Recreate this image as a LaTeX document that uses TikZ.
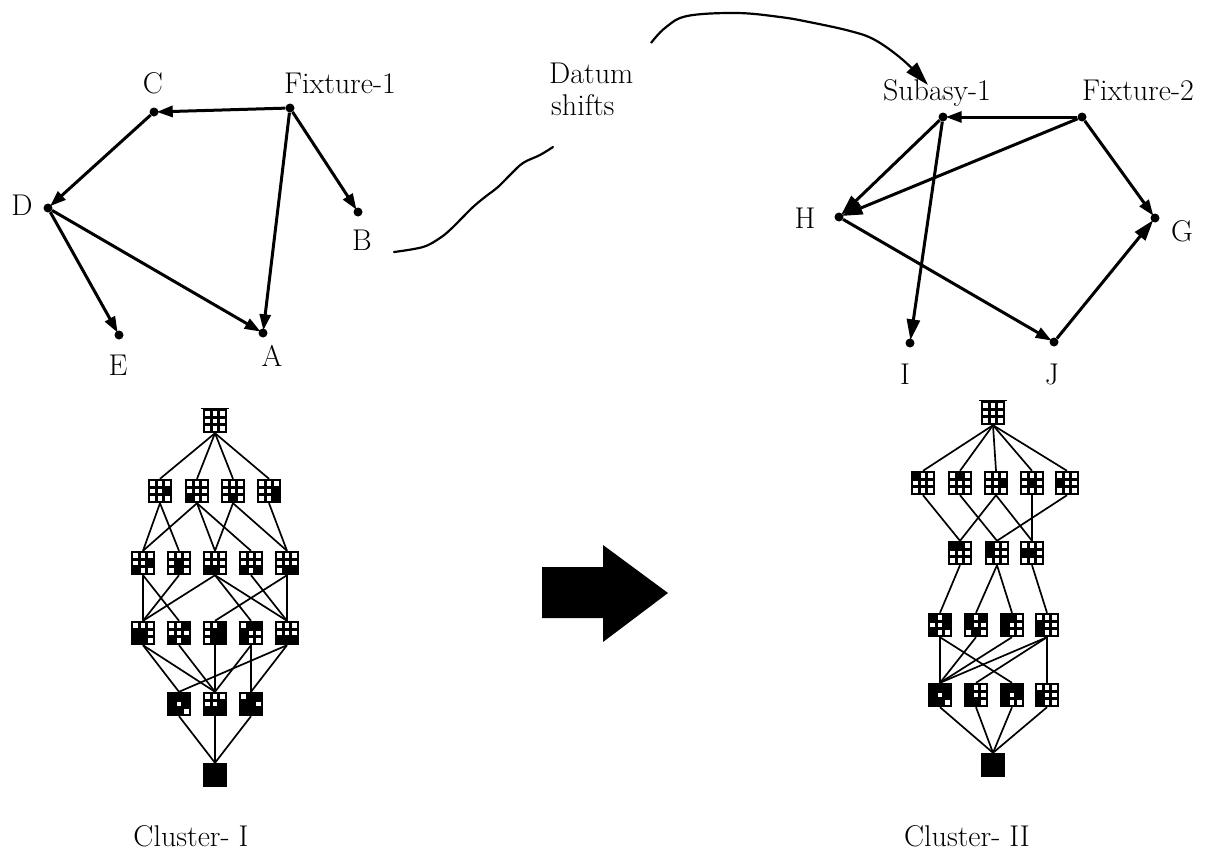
\documentclass[tikz,border=0pt]{standalone}
\usetikzlibrary{arrows.meta}
\begin{document}
\begin{tikzpicture}[x=1pt,y=-1pt,
  lbl/.style={font=\fontsize{30}{33}\selectfont, inner sep=0pt, anchor=base},
  gdot/.style={circle, fill=black, inner sep=0pt, minimum size=9pt},
  garrow/.style={line width=3pt, -{Triangle[length=16pt,width=11pt]}, shorten >=-2pt},
  garrowb/.style={line width=3pt, -{Triangle[length=21pt,width=13pt]}, shorten >=-2pt},
  latn/.style={rectangle, fill=black, inner sep=0pt, minimum size=24pt},
  ledge/.style={line width=1.7pt},
  curvestyle/.style={line width=2.2pt, line cap=round}]
\useasboundingbox (0,0) rectangle (1210,862);

\newcommand\latbox[4]{%
  \node[latn] (#1) at (#2,#3) {};
  \foreach \c in {1,...,9}{%
    \pgfmathtruncatemacro\cc{mod(\c-1,3)}%
    \pgfmathtruncatemacro\rr{(\c-1)/3}%
    \fill[white] ({#2+7.2*\cc-7.2-2.4},{#3+7.2*\rr-7.2-2.4}) rectangle ++(4.8,4.8);}
  \foreach \c in {#4}{%
    \ifnum\c>0
    \pgfmathtruncatemacro\cc{mod(\c-1,3)}%
    \pgfmathtruncatemacro\rr{(\c-1)/3}%
    \fill[black] ({#2+7.2*\cc-7.2-2.7},{#3+7.2*\rr-7.2-2.7}) rectangle ++(5.4,5.4);
    \fi}
}

% ---------------- left graph ----------------
\node[gdot] (F1) at (290,108) {};
\node[gdot] (C) at (154,112) {};
\node[gdot] (D) at (48,208) {};
\node[gdot] (B) at (358,212) {};
\node[gdot] (E) at (119,335) {};
\node[gdot] (A) at (263,333) {};
\node[lbl] (tF1) at (340,93) {Fixture-1};
\node[lbl] (tC) at (153,93) {C};
\node[lbl] (tD) at (22,215) {D};
\node[lbl] (tB) at (362,250) {B};
\node[lbl] (tE) at (118,375) {E};
\node[lbl] (tA) at (272,366) {A};
\draw[garrow] (F1) -- (C);
\draw[garrow] (F1) -- (B);
\draw[garrow] (F1) -- (A);
\draw[garrow] (C) -- (D);
\draw[garrow] (D) -- (E);
\draw[garrow] (D) -- (A);

% ---------------- right graph ----------------
\node[gdot] (S1) at (943,117) {};
\node[gdot] (F2) at (1082,117) {};
\node[gdot] (H) at (839,217) {};
\node[gdot] (G) at (1155,218) {};
\node[gdot] (I) at (910,343) {};
\node[gdot] (J) at (1054,342) {};
\node[lbl] (tS1) at (937,100) {Subasy-1};
\node[lbl] (tF2) at (1138,100) {Fixture-2};
\node[lbl] (tH) at (805,228) {H};
\node[lbl] (tG) at (1182,241) {G};
\node[lbl] (tI) at (905,384) {I};
\node[lbl] (tJ) at (1052,384) {J};
\draw[garrow] (F2) -- (S1);
\draw[garrowb] (F2) -- (H);
\draw[garrowb] (S1) -- (H);
\draw[garrowb] (S1) -- (I);
\draw[garrow] (H) -- (J);
\draw[garrowb] (J) -- (G);
\draw[garrow] (F2) -- (G);

% ---------------- datum shifts ----------------
\node[lbl, anchor=base west] (tD1) at (549,83) {Datum};
\node[lbl, anchor=base west] (tD2) at (551,115) {shifts};
\coordinate (q0) at (394,252);
\coordinate (q1) at (553,147);
\draw[curvestyle] plot[smooth, tension=0.6] coordinates {(q0) (423,247) (440,238) (451,229) (462,218) (473,207) (485,197) (498,187) (510,175) (523,163) (540,155) (q1)};
\coordinate (p0) at (651,43);
\coordinate (p1) at (928,85);
\draw[curvestyle, line cap=butt, -{Triangle[length=24pt,width=14pt]}] plot[smooth, tension=0.6] coordinates {(p0) (665,28) (687,16) (737,13) (780,17) (809,22) (850,31) (875,40) (903,60) (p1)};

% ---------------- big arrow ----------------
\fill[black] (542,567) -- (603,567) -- (603,545) -- (668,593) -- (603,642) -- (603,618) -- (542,618) -- cycle;

% ---------------- left lattice ----------------
\latbox{L0}{215}{421}{0}
\draw[line width=1.8pt] (201,408.5) -- (229,408.5);
\latbox{L1a}{160}{491}{6}
\latbox{L1b}{197}{491}{7}
\latbox{L1c}{233}{491}{8}
\latbox{L1d}{269}{491}{6,9}
\latbox{L2a}{143}{563}{6,7}
\latbox{L2b}{179}{563}{5,8}
\latbox{L2c}{215}{563}{7,8}
\latbox{L2d}{251}{563}{7,9}
\latbox{L2e}{287}{563}{8,9}
\latbox{L3a}{143}{633}{4,5,7,8}
\latbox{L3b}{179}{633}{3,7,9}
\latbox{L3c}{215}{633}{3,5,6,8,9}
\latbox{L3d}{251}{633}{2,3,4,7}
\latbox{L3e}{287}{633}{7,8,9}
\latbox{L4a}{179}{704}{1,2,3,4,6,7,8}
\latbox{L4b}{215}{704}{6,7,8,9}
\latbox{L4c}{251}{704}{2,3,4,5,7,8,9}
\latbox{L5}{215}{775}{1,2,3,4,5,6,7,8,9}
\foreach \a/\b in {L0/L1a,L0/L1b,L0/L1c,L0/L1d,
  L1a/L2a,L1a/L2b,L1b/L2a,L1b/L2c,L1b/L2d,L1c/L2c,L1c/L2e,L1d/L2e,
  L2a/L3a,L2a/L3b,L2b/L3a,L2c/L3a,L2c/L3d,L2c/L3e,L2d/L3e,L2e/L3c,L2e/L3e,
  L3a/L4a,L3a/L4b,L3b/L4b,L3c/L4b,L3d/L4b,L3d/L4c,L3e/L4a,L3e/L4c,
  L4a/L5,L4b/L5,L4c/L5}
  \draw[ledge] (\a.south) -- (\b.north);

% ---------------- right lattice ----------------
\latbox{R0}{993}{413}{0}
\draw[line width=1.8pt] (979,400.5) -- (1007,400.5);
\latbox{R1a}{923}{483}{1}
\latbox{R1b}{960}{483}{2}
\latbox{R1c}{996}{483}{6}
\latbox{R1d}{1032}{483}{5}
\latbox{R1e}{1067}{483}{4}
\latbox{R2a}{960}{553}{1,2}
\latbox{R2b}{997}{553}{1,4}
\latbox{R2c}{1032}{553}{4,5}
\latbox{R3a}{940}{625}{1,3,6,7}
\latbox{R3b}{976}{625}{1,3,4,8}
\latbox{R3c}{1012}{625}{1,2,4,7}
\latbox{R3d}{1047}{625}{4,7}
\latbox{R4a}{940}{695}{1,2,3,4,6,7,8}
\latbox{R4b}{976}{695}{1,4,7,8}
\latbox{R4c}{1012}{695}{1,2,3,4,6,7}
\latbox{R4d}{1047}{695}{4,7}
\latbox{R5}{993}{765}{1,2,3,4,5,6,7,8,9}
\foreach \a/\b in {R0/R1a,R0/R1b,R0/R1c,R0/R1d,R0/R1e,
  R1a/R2a,R1b/R2b,R1c/R2a,R1c/R2c,R1d/R2c,R1e/R2b,
  R2a/R3a,R2b/R3b,R2b/R3c,R2c/R3d,
  R3a/R4a,R3a/R4c,R3b/R4a,R3c/R4a,R3d/R4a,R3d/R4b,R3d/R4d,
  R4a/R5,R4b/R5,R4c/R5,R4d/R5}
  \draw[ledge] (\a.south) -- (\b.north);

% ---------------- captions ----------------
\node[lbl] (cap1) at (191,846) {Cluster- I};
\node[lbl] (cap2) at (967,846) {Cluster- II};
\end{tikzpicture}
\end{document}
